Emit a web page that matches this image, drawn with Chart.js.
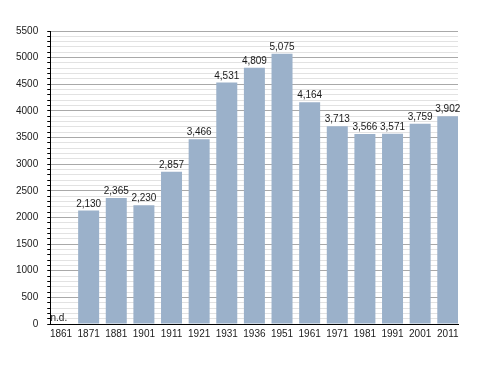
<!DOCTYPE html>
<html>
<head>
<meta charset="utf-8">
<script src="https://cdn.jsdelivr.net/npm/chart.js@4/dist/chart.umd.min.js"></script>
<style>
html,body{margin:0;padding:0;background:#fff;}
#wrap{width:488px;height:373px;}
</style>
</head>
<body>
<div id="wrap"><canvas id="c" width="488" height="373"></canvas></div>
<script>
const years = ["1861","1871","1881","1901","1911","1921","1931","1936","1951","1961","1971","1981","1991","2001","2011"];
const population = [null,2130,2365,2230,2857,3466,4531,4809,5075,4164,3713,3566,3571,3759,3902];
const valueLabels = ["n.d.","2,130","2,365","2,230","2,857","3,466","4,531","4,809","5,075","4,164","3,713","3,566","3,571","3,759","3,902"];
const yMajorStep = 500;
const yMinorStep = 100;

const FONT = "'Liberation Sans', Arial, sans-serif";

const labelPlugin = {
  id: 'valueLabels',
  afterDatasetsDraw(chart) {
    const ctx = chart.ctx;
    const meta = chart.getDatasetMeta(0);
    const xs = chart.scales.x, ys = chart.scales.y;
    let bw = 21;
    meta.data.forEach(el => { if (el && isFinite(el.width) && el.width > 0) bw = el.width; });
    ctx.save();
    ctx.font = "10px " + FONT;
    ctx.fillStyle = '#1a1a1a';
    ctx.textBaseline = 'alphabetic';
    population.forEach((v, i) => {
      const x = xs.getPixelForValue(i);
      if (v === null) {
        ctx.textAlign = 'left';
        ctx.fillText(valueLabels[i], x - bw / 2, ys.getPixelForValue(0) - 3);
      } else {
        ctx.textAlign = 'center';
        ctx.fillText(valueLabels[i], x, ys.getPixelForValue(v) - 4);
      }
    });
    ctx.restore();
  }
};

new Chart(document.getElementById('c'), {
  type: 'bar',
  data: {
    datasets: [{
      data: population.map((v, i) => ({x: i, y: v})),
      backgroundColor: '#9bb1ca',
      borderWidth: 0,
      categoryPercentage: 1,
      barPercentage: 0.76
    }]
  },
  options: {
    responsive: false,
    animation: false,
    devicePixelRatio: 1,
    layout: { padding: { left: 7, right: 30, top: 31, bottom: 29 } },
    plugins: { legend: { display: false }, tooltip: { enabled: false } },
    scales: {
      x: {
        type: 'linear',
        min: -0.39,
        max: 14.37,
        offset: false,
        afterBuildTicks: s => { s.ticks = years.map((_, i) => ({ value: i })); },
        grid: { display: false, drawTicks: false },
        border: { display: true, color: '#000', width: 1 },
        ticks: {
          autoSkip: false,
          maxRotation: 0,
          padding: 4,
          color: '#1a1a1a',
          font: { family: FONT, size: 10 },
          callback: v => years[v]
        }
      },
      y: {
        min: 0,
        max: 5500,
        grid: {
          color: c => (c.tick && c.tick.value % yMajorStep === 0) ? '#a9a9a9' : '#e2e2e2',
          lineWidth: 1,
          drawTicks: true,
          tickLength: 3,
          tickColor: '#000'
        },
        border: { display: true, color: '#000', width: 1 },
        ticks: {
          stepSize: yMinorStep,
          autoSkip: false,
          maxTicksLimit: 1000,
          padding: 9,
          color: '#1a1a1a',
          font: { family: FONT, size: 10 },
          callback: v => (v % yMajorStep === 0) ? String(v) : ''
        }
      }
    }
  },
  plugins: [labelPlugin]
});
</script>
</body>
</html>
